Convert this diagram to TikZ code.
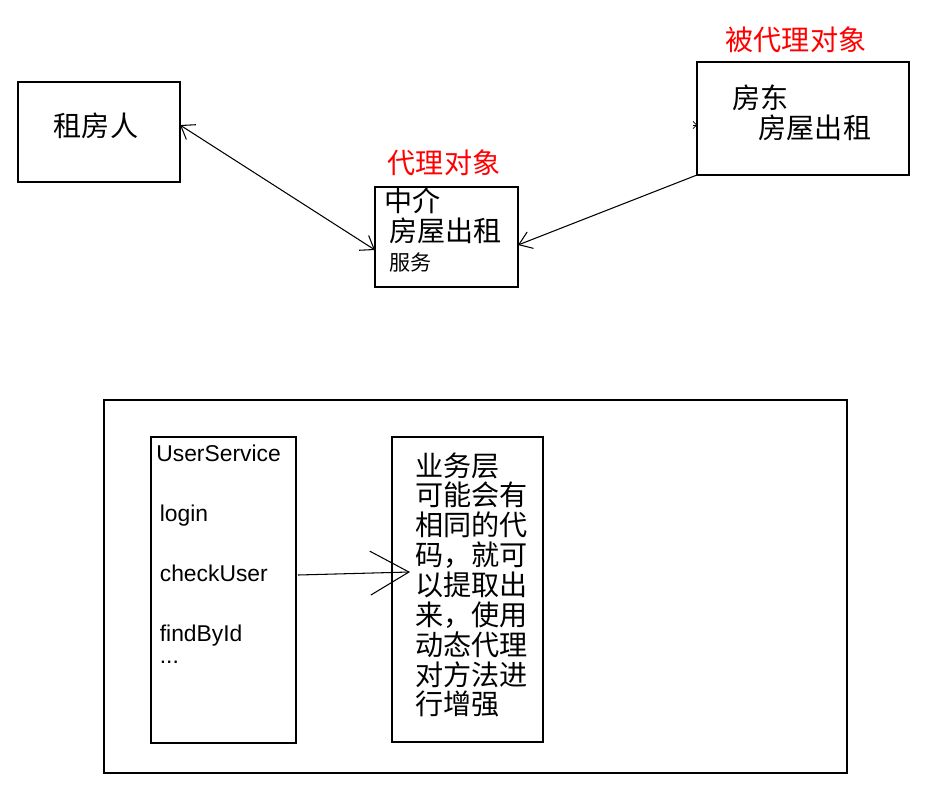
\documentclass[tikz,border=0pt]{standalone}
\usepackage{fontspec}
\setmainfont{Liberation Sans}
\newfontfamily\cjk{Noto Sans CJK SC}
\usetikzlibrary{arrows.meta}
\definecolor{labelRed}{RGB}{255, 0, 0}

\begin{document}
\begin{tikzpicture}[x=0.02cm, y=-0.02cm,
    box/.style={rectangle, draw, thick, inner sep=0pt},
    txt/.style={font=\cjk\fontsize{16}{18}\selectfont, align=left, inner sep=0pt},
    redlabel/.style={font=\cjk\fontsize{16}{18}\selectfont, text=labelRed},
    barb/.style={-{Straight Barb[length=7pt, width=10pt]}, semithick}]
    \useasboundingbox (0,0) rectangle (939,811);
    % Top: proxy example
    \node[box, minimum width=162*0.02cm, minimum height=100*0.02cm] (renter) at (99,132) {};
    \node[txt] (renterText) at (96,126) {租房人};
    \node[box, minimum width=143*0.02cm, minimum height=100*0.02cm] (agent) at (446.5,237) {};
    \node[txt, anchor=north west] (agentText) at (384,187) {中介\\[-1pt]\hspace{3pt}房屋出租\\[-1pt]\hspace{3pt}{\fontsize{12}{14}\selectfont 服务}};
    \node[box, minimum width=212*0.02cm, minimum height=113*0.02cm] (owner) at (803,118.5) {};
    \node[txt, anchor=north west] (ownerText) at (732,84) {房东\\[-1pt]\hspace{15pt}房屋出租};
    \node[redlabel] (agentLabel) at (444,163) {代理对象};
    \node[redlabel] (ownerLabel) at (796,40) {被代理对象};
    \coordinate (renterE) at (180,125);
    \coordinate (agentW) at (375,250);
    \coordinate (agentE) at (518,245);
    \coordinate (ownerSW) at (697,175);
    \coordinate (ownerW) at (697,125);
    \coordinate (ownerTick) at (693,125);
    \draw[barb, {Straight Barb[length=7pt, width=10pt]}-{Straight Barb[length=7pt, width=10pt]}] (renterE) -- (agentW);
    \draw[barb] (ownerSW) -- (agentE);
    \draw[-{Straight Barb[length=2pt, width=4pt]}] (ownerTick) -- (ownerW);

    % Bottom: dynamic proxy
    \node[box, minimum width=743*0.02cm, minimum height=373*0.02cm] (outer) at (475.5,586.5) {};
    \node[box, minimum width=145*0.02cm, minimum height=306*0.02cm] (service) at (223.5,590) {};
    \node[font=\fontsize{13}{15}\selectfont, anchor=north west, align=left, inner sep=0pt] (serviceText) at (156,445)
        {UserService\\[19pt]\hspace{2pt}login\\[19pt]\hspace{2pt}checkUser\\[19pt]\hspace{2pt}findById\\[-2pt]\hspace{2pt}...};
    \node[box, minimum width=151*0.02cm, minimum height=305*0.02cm] (note) at (467.5,589.5) {};
    \node[txt, anchor=north west, font=\cjk\fontsize{16}{17}\selectfont] (noteText) at (415,452)
        {业务层\\可能会有\\相同的代\\码，就可\\以提取出\\来，使用\\动态代理\\对方法进\\行增强};
    \coordinate (checkUserE) at (298,575);
    \coordinate (noteW) at (410,572);
    \draw[-{Straight Barb[length=22pt, width=25pt]}, semithick] (checkUserE) -- (noteW);
\end{tikzpicture}
\end{document}
